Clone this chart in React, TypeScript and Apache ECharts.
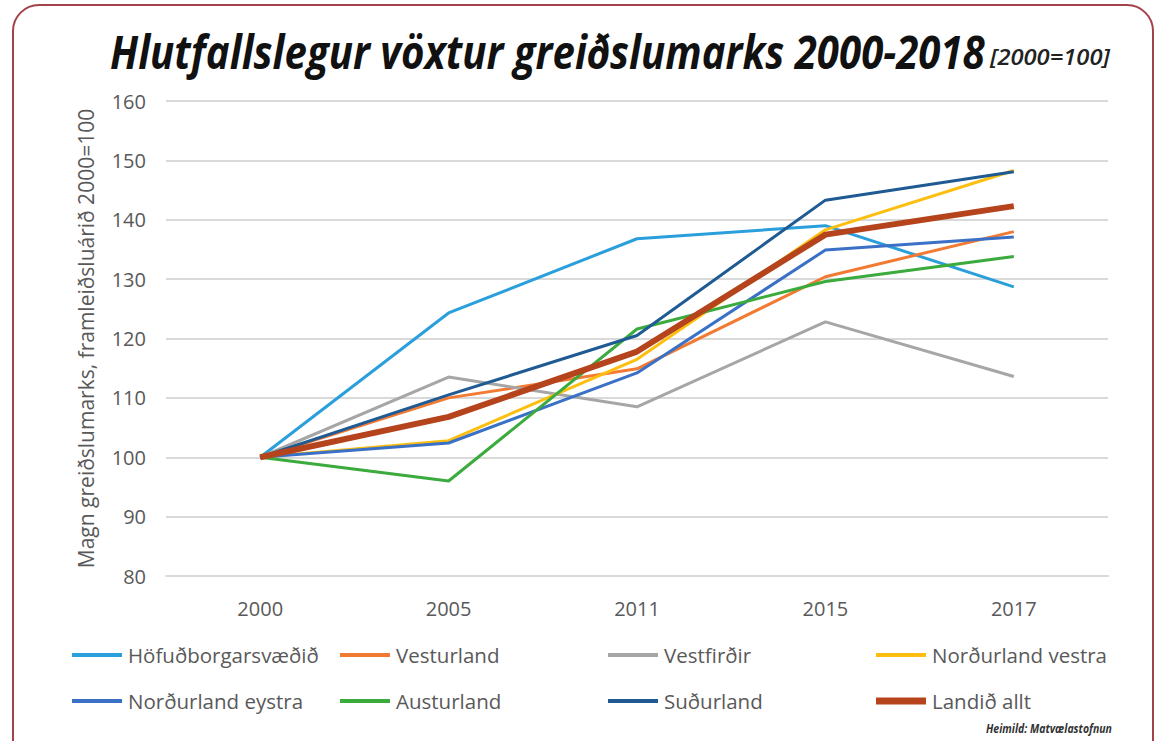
import React, { useEffect, useRef } from "react";
import * as echarts from "echarts";

const years = ["2000", "2005", "2011", "2015", "2017"];
const yTicks = { min: 80, max: 160, interval: 10 };

const hofudborgarsvaedid = [100, 124.3, 136.8, 139.0, 128.7];
const vesturland = [100, 110.0, 114.9, 130.4, 138.0];
const vestfirdir = [100, 113.5, 108.5, 122.8, 113.6];
const nordurlandVestra = [100, 102.8, 116.5, 138.3, 148.3];
const nordurlandEystra = [100, 102.4, 114.2, 134.9, 137.1];
const austurland = [100, 96.0, 121.6, 129.6, 133.8];
const sudurland = [100, 110.5, 120.5, 143.3, 148.1];
const landidAllt = [100, 106.8, 117.8, 137.5, 142.3];

const seriesNames = [
  "Höfuðborgarsvæðið",
  "Vesturland",
  "Vestfirðir",
  "Norðurland vestra",
  "Norðurland eystra",
  "Austurland",
  "Suðurland",
  "Landið allt",
];
const seriesValues = [
  hofudborgarsvaedid,
  vesturland,
  vestfirdir,
  nordurlandVestra,
  nordurlandEystra,
  austurland,
  sudurland,
  landidAllt,
];
const seriesColors = [
  "#2b9fdc",
  "#f37a32",
  "#a6a6a6",
  "#fdbf0f",
  "#3a70c6",
  "#3bab3d",
  "#1f5a93",
  "#b5441c",
];

const titleText = "Hlutfallslegur vöxtur greiðslumarks 2000-2018";
const subText = "[2000=100]";
const sourceText = "Heimild: Matvælastofnun";
const yAxisName = "Magn greiðslumarks, framleiðsluárið 2000=100";

function measure(text: string, font: string): number {
  const c = document.createElement("canvas").getContext("2d");
  if (!c) return 1;
  c.font = font;
  return c.measureText(text).width || 1;
}

export default function App() {
  const ref = useRef<HTMLDivElement>(null);
  useEffect(() => {
    if (!ref.current) return;
    const chart = echarts.init(ref.current, undefined, { renderer: "svg" });

    const titleFont = 'italic bold 46px "Open Sans"';
    const subFont = 'italic 600 21px "Open Sans"';
    const srcFont = 'italic bold 12px "Open Sans"';
    const titleScale = 875 / measure(titleText, titleFont);
    const subScale = 120 / measure(subText, subFont);
    const srcScale = 126 / measure(sourceText, srcFont);

    const colLeft = [72, 340, 608, 876];
    const rowCenter = [655, 701];
    const legends = seriesNames.map((name, i) => {
      const thick = i === 7;
      const h = thick ? 7 : 4;
      return {
        data: [name],
        left: colLeft[i % 4],
        top: rowCenter[Math.floor(i / 4)] - 12,
        padding: 0,
        icon: "rect",
        itemWidth: 50,
        itemHeight: h,
        itemGap: 0,
        selectedMode: false,
        textStyle: {
          fontFamily: "Open Sans",
          fontSize: 20.5,
          color: "#595959",
          lineHeight: 24,
          padding: [0, 0, 0, 1],
        },
      };
    });

    chart.setOption({
      animation: false,
      backgroundColor: "#ffffff",
      legend: legends,
      grid: { left: 166, right: 50, top: 101, bottom: 165, containLabel: false },
      xAxis: {
        type: "category",
        data: years,
        boundaryGap: true,
        axisLine: { show: true, lineStyle: { color: "#d9d9d9", width: 2 } },
        axisTick: { show: false },
        axisLabel: {
          margin: 22,
          fontFamily: "Open Sans",
          fontSize: 20,
          color: "#595959",
        },
      },
      yAxis: {
        type: "value",
        min: yTicks.min,
        max: yTicks.max,
        interval: yTicks.interval,
        name: yAxisName,
        nameLocation: "middle",
        nameRotate: 90,
        nameGap: 70,
        nameTextStyle: { fontFamily: "Open Sans", fontSize: 21, color: "#595959" },
        axisLine: { show: false },
        axisTick: { show: false },
        axisLabel: {
          margin: 20,
          fontFamily: "Open Sans",
          fontSize: 20,
          color: "#595959",
        },
        splitLine: { lineStyle: { color: "#d9d9d9", width: 2 } },
      },
      series: seriesNames.map((name, i) => ({
        name,
        type: "line",
        data: seriesValues[i],
        symbol: "none",
        color: seriesColors[i],
        lineStyle: { width: i === 7 ? 6 : 3, color: seriesColors[i] },
        z: 2 + i,
      })),
      graphic: [
        {
          type: "rect",
          shape: { x: 13, y: 5, width: 1140, height: 760, r: 26 },
          style: { fill: "none", stroke: "#a3424a", lineWidth: 2 },
          silent: true,
          z: -1,
        },
        {
          type: "text",
          x: 110,
          y: 28,
          scaleX: titleScale,
          style: {
            text: titleText,
            font: titleFont,
            fill: "#111111",
            align: "left",
            verticalAlign: "top",
          },
        },
        {
          type: "text",
          x: 990,
          y: 47,
          scaleX: subScale,
          style: {
            text: subText,
            font: subFont,
            fill: "#222222",
            align: "left",
            verticalAlign: "top",
          },
        },
        {
          type: "text",
          x: 986,
          y: 722,
          scaleX: srcScale,
          style: {
            text: sourceText,
            font: srcFont,
            fill: "#333333",
            align: "left",
            verticalAlign: "top",
          },
        },
      ],
    });
    return () => chart.dispose();
  }, []);
  return (
    <div
      ref={ref}
      style={{ position: "absolute", left: 0, top: 0, width: 1158, height: 741, background: "#fff" }}
    />
  );
}
